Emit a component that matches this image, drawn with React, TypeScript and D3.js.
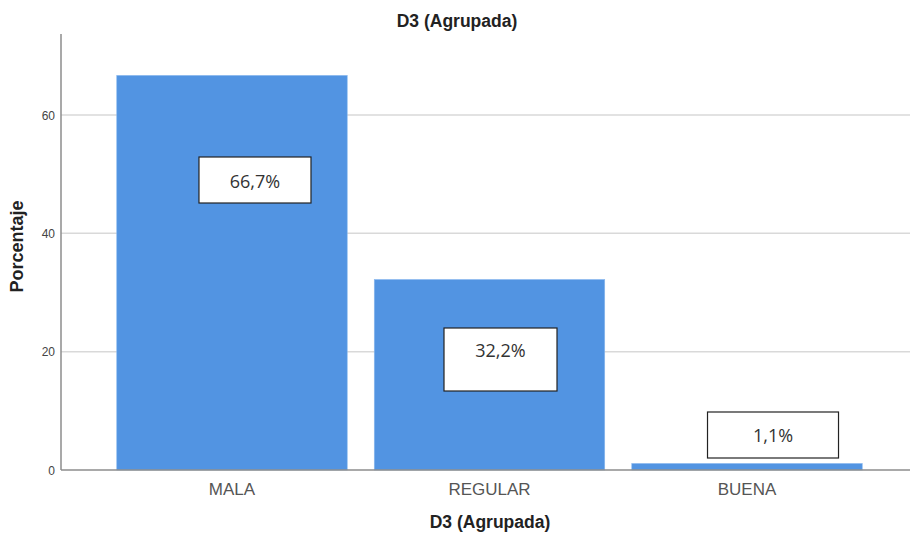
import React from "react";
import * as d3 from "d3";

const categories = ["MALA", "REGULAR", "BUENA"];
const percentages = [66.7, 32.2, 1.1];
const valueLabels = ["66,7%", "32,2%", "1,1%"];
const yTicks = [0, 20, 40, 60];

// label box layout (offset from band centre, top, width, height, text baseline) — layout only
const boxLayout = [
  { dx: 23, top: 157, w: 112, h: 46, textY: 188 },
  { dx: 11, top: 328, w: 113, h: 63, textY: 357 },
  { dx: 26, top: 412, w: 131, h: 46, textY: 442 },
];

export default function App() {
  const W = 910, H = 535;
  const x = d3.scaleBand<string>().domain(categories).range([91, 888]).paddingInner(0.105).paddingOuter(0.1);
  const y = d3.scaleLinear().domain([0, 73.7]).range([470, 34]);
  const axisX = 61;
  const font = "Arial, 'Liberation Sans', sans-serif";
  return (
    <svg width={W} height={H} style={{ position: "absolute", left: 0, top: 0, background: "#fff" }}>
      <text x={457} y={27} textAnchor="middle" fontFamily={font} fontWeight="bold" fontSize={17.5} fill="#222">D3 (Agrupada)</text>
      {yTicks.filter(t => t > 0).map(t => (
        <line key={t} x1={axisX} x2={W} y1={y(t)} y2={y(t)} stroke="#d9d9d9" strokeWidth={1.5} />
      ))}
      {categories.map((c, i) => (
        <rect key={c} x={x(c)!} y={y(percentages[i])} width={x.bandwidth()} height={y(0) - y(percentages[i])}
          fill="#5294e2" stroke="#8ab8ee" strokeWidth={0.6} />
      ))}
      <line x1={axisX} x2={W} y1={y(0)} y2={y(0)} stroke="#8c8c8c" strokeWidth={1.5} />
      <line x1={axisX} x2={axisX} y1={34} y2={y(0)} stroke="#8c8c8c" strokeWidth={1.5} />
      {yTicks.map(t => (
        <text key={t} x={55} y={y(t) + 4.5} textAnchor="end" fontFamily={font} fontSize={12} fill="#444">{t}</text>
      ))}
      <text transform={`translate(23,246.5) rotate(-90)`} textAnchor="middle" fontFamily={font} fontWeight="bold" fontSize={18} fill="#222">Porcentaje</text>
      {categories.map(c => (
        <text key={c} x={x(c)! + x.bandwidth() / 2} y={495} textAnchor="middle" fontFamily={font} fontSize={17} fill="#555">{c}</text>
      ))}
      <text x={490} y={528} textAnchor="middle" fontFamily={font} fontWeight="bold" fontSize={17.5} fill="#222">D3 (Agrupada)</text>
      {categories.map((c, i) => {
        const b = boxLayout[i];
        const cx = x(c)! + x.bandwidth() / 2 + b.dx;
        return (
          <g key={c}>
            <rect x={cx - b.w / 2} y={b.top} width={b.w} height={b.h} fill="#fff" stroke="#222" strokeWidth={1.2} />
            <text x={cx} y={b.textY} textAnchor="middle" fontFamily="'Open Sans', 'Noto Sans', sans-serif" fontSize={18} fill="#333">{valueLabels[i]}</text>
          </g>
        );
      })}
    </svg>
  );
}
